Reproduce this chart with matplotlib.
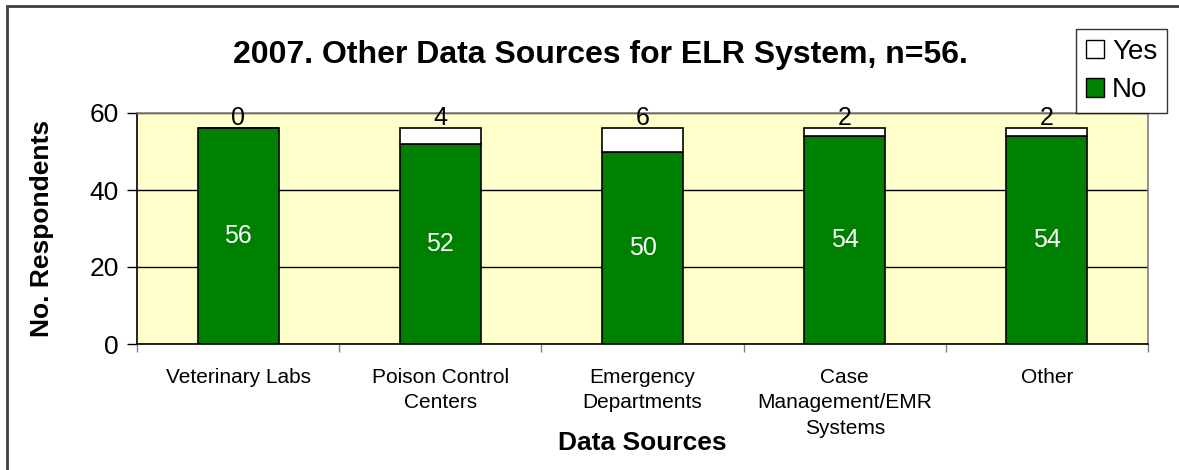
import numpy as np
import matplotlib.pyplot as plt
from matplotlib.patches import Rectangle, Patch

plt.rcParams['font.family'] = ['Liberation Sans', 'DejaVu Sans']

# data
categories = ["Veterinary Labs", "Poison Control\nCenters", "Emergency\nDepartments",
              "Case\nManagement/EMR\nSystems", "Other"]
no_counts = [56, 52, 50, 54, 54]
yes_counts = [0, 4, 6, 2, 2]

green = "#008000"
plot_bg = "#FFFFCC"

fig = plt.figure(figsize=(11.79, 4.70), dpi=100)
ax = fig.add_axes([137 / 1179, 1 - 344 / 470, (1148 - 137) / 1179, (344 - 113) / 470])
ax.set_facecolor(plot_bg)

x = np.arange(len(categories))
ax.bar(x, no_counts, width=0.4, color=green, edgecolor="black", linewidth=1.2, zorder=3)
ax.bar(x, yes_counts, width=0.4, bottom=no_counts, color="white",
       edgecolor="black", linewidth=1.2, zorder=3)

# labels: No in the middle (white), Yes above stack (black)
for xi, n, y in zip(x, no_counts, yes_counts):
    ax.text(xi, n / 2, str(n), ha="center", va="center", color="white", fontsize=18, zorder=4)
    ax.annotate(str(y), (xi, n + y), xytext=(0, -1), textcoords="offset points",
                ha="center", va="bottom", fontsize=18, zorder=4, annotation_clip=False)

ax.set_xlim(-0.5, len(categories) - 0.5)
ax.set_ylim(0, 60)
ax.set_yticks([0, 20, 40, 60])
ax.yaxis.grid(True, color="black", linewidth=1.0, zorder=1)
ax.set_axisbelow(True)

ax.set_xticks(x)
ax.set_xticklabels(categories, fontsize=15, linespacing=1.45)
ax.set_xticks(np.arange(len(categories) + 1) - 0.5, minor=True)
ax.tick_params(axis="x", which="major", length=0, pad=17)
ax.tick_params(axis="x", which="minor", length=6, color="#808080", width=1)
ax.tick_params(axis="y", labelsize=19, length=7, width=1, pad=6)

for s in ["left", "bottom"]:
    ax.spines[s].set_color("black")
    ax.spines[s].set_linewidth(1.2)
for s in ["top", "right"]:
    ax.spines[s].set_color("#808080")
    ax.spines[s].set_linewidth(1.2)

fig.text(42 / 1179, 1 - 228 / 470, "No. Respondents", rotation=90, ha="center", va="center",
         fontsize=19, fontweight="bold")
fig.text(642 / 1179, 1 - 443 / 470, "Data Sources", ha="center", va="center",
         fontsize=19, fontweight="bold")
fig.text(600 / 1179, 1 - 55 / 470, "2007. Other Data Sources for ELR System, n=56.",
         ha="center", va="center", fontsize=23, fontweight="bold")

handles = [Patch(facecolor="white", edgecolor="black", label="Yes"),
           Patch(facecolor=green, edgecolor="black", label="No")]
leg = fig.legend(handles=handles, loc="upper right", bbox_to_anchor=(1167 / 1179, 1 - 29 / 470),
                 fontsize=20, frameon=True, fancybox=False, handlelength=0.65, handleheight=0.65,
                 handletextpad=0.3, borderpad=0.35, labelspacing=0.45, borderaxespad=0)
leg.get_frame().set_edgecolor("black")
leg.get_frame().set_linewidth(1.0)

# outer chart border
fig.patches.append(Rectangle((7 / 1179, -0.05), 1.2, 1 - 6 / 470 + 0.05, transform=fig.transFigure,
                             fill=False, edgecolor="#404040", linewidth=2))

fig.savefig("out.png", dpi=100)
